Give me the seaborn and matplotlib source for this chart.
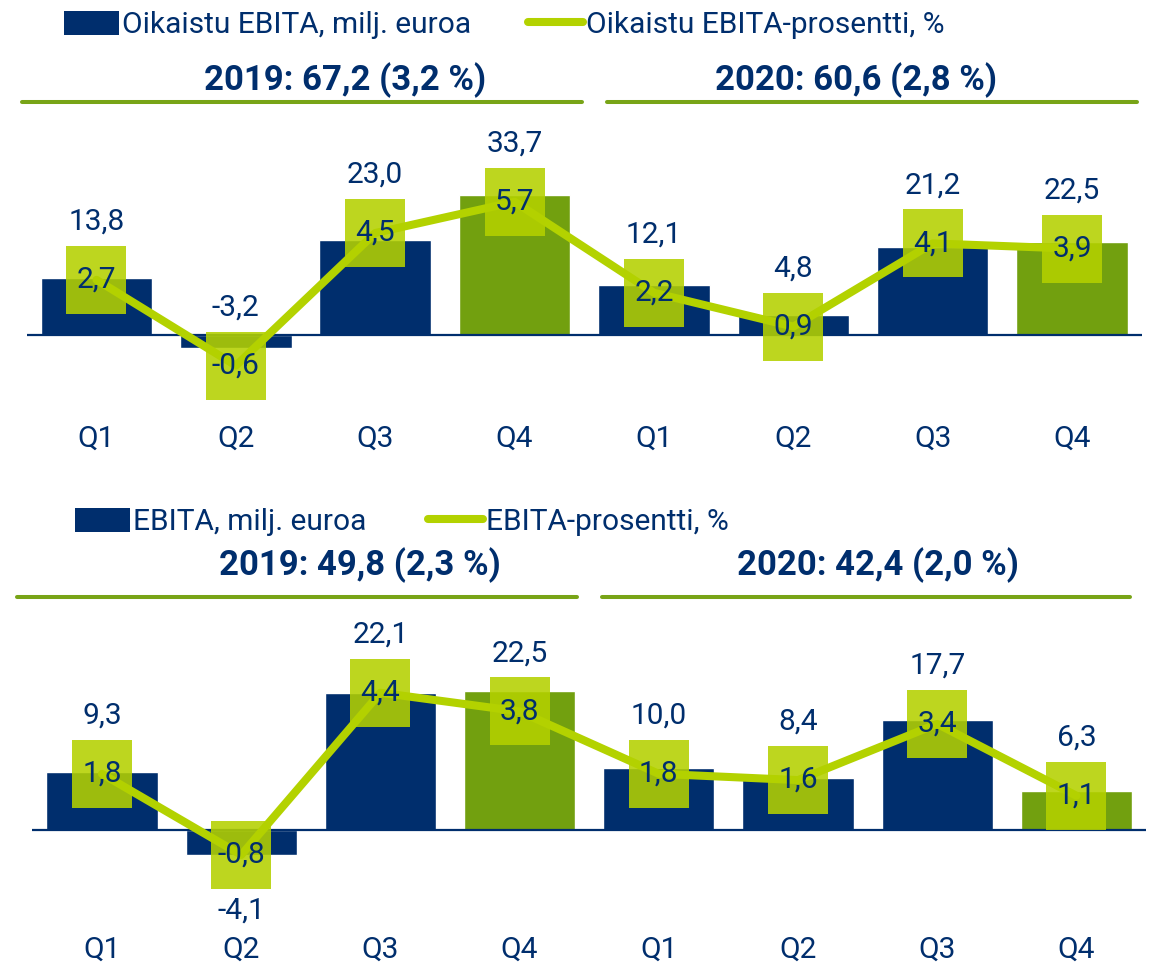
import numpy as np
import pandas as pd
import matplotlib
matplotlib.use("Agg")
import matplotlib.pyplot as plt
import seaborn as sns
from matplotlib.path import Path
from matplotlib.lines import Line2D
from matplotlib.patches import Patch

# ---------------- data ----------------
quarters = ["Q1", "Q2", "Q3", "Q4", "Q1", "Q2", "Q3", "Q4"]
periods = ["2019 Q1", "2019 Q2", "2019 Q3", "2019 Q4",
           "2020 Q1", "2020 Q2", "2020 Q3", "2020 Q4"]

adj_ebita = [13.8, -3.2, 23.0, 33.7, 12.1, 4.8, 21.2, 22.5]
adj_pct = [2.7, -0.6, 4.5, 5.7, 2.2, 0.9, 4.1, 3.9]
ebita = [9.3, -4.1, 22.1, 22.5, 10.0, 8.4, 17.7, 6.3]
ebita_pct = [1.8, -0.8, 4.4, 3.8, 1.8, 1.6, 3.4, 1.1]

top_legend = ["Oikaistu EBITA, milj. euroa", "Oikaistu EBITA-prosentti, %"]
bottom_legend = ["EBITA, milj. euroa", "EBITA-prosentti, %"]
top_headers = ["2019: 67,2 (3,2 %)", "2020: 60,6 (2,8 %)"]
bottom_headers = ["2019: 49,8 (2,3 %)", "2020: 42,4 (2,0 %)"]
bottom_label_below = [False, True, False, False, False, False, False, False]
top_label_below = [False] * 8

# ---------------- style ----------------
NAVY = "#002E6D"
GREEN = "#72A00F"
LIME = "#B3D200"
BOX = "#B4D100"
HDR = "#78A417"
FONT = "Roboto"
FS = 21.5

sns.set_theme(style="white")
plt.rcParams["font.family"] = [FONT, "DejaVu Sans"]

W, H = 1149, 967
DPI = 100
fig = plt.figure(figsize=(W / DPI, H / DPI), dpi=DPI)
fig.patch.set_facecolor("white")

BOX_HALF_PX = 34
rect_path = Path([(-30, -34), (30, -34), (30, 34), (-30, 34), (-30, -34)],
                 [Path.MOVETO, Path.LINETO, Path.LINETO, Path.LINETO, Path.CLOSEPOLY])
BOX_S = (2 * BOX_HALF_PX * 0.72) ** 2


def fmt(v):
    return f"{v:.1f}".replace(".", ",")


def panel(rect, values, pcts, ylim, ylim2, tick_pad, below):
    ax = fig.add_axes(rect)
    df = pd.DataFrame({"period": periods, "value": values, "quarter": quarters})
    sns.barplot(data=df, x="period", y="value", hue="quarter",
                palette={"Q1": NAVY, "Q2": NAVY, "Q3": NAVY, "Q4": GREEN},
                order=periods, dodge=False, width=0.8, saturation=1,
                legend=False, ax=ax)
    ax.set_xlim(-0.5, 7.5)
    ax.set_ylim(*ylim)
    ax.axhline(0, color=NAVY, lw=1.6, zorder=3)
    ax.set_xticks(range(len(quarters)))
    ax.set_xticklabels(quarters, fontsize=FS, color=NAVY)
    ax.tick_params(axis="x", length=0, pad=tick_pad)
    ax.set_yticks([])
    ax.set_xlabel("")
    ax.set_ylabel("")
    for s in ax.spines.values():
        s.set_visible(False)
    ax.patch.set_alpha(0)

    ax2 = ax.twinx()
    ax2.set_ylim(*ylim2)
    x = np.arange(len(pcts))
    sns.lineplot(x=x, y=pcts, ax=ax2, color=LIME, lw=5.8, sort=False,
                 solid_joinstyle="round", zorder=2)
    ax2.scatter(x, pcts, marker=rect_path, s=BOX_S, color=BOX, alpha=0.88,
                linewidths=0, zorder=3)
    for i, p in enumerate(pcts):
        ax2.text(i, p, fmt(p), ha="center", va="center", fontsize=FS,
                 color=NAVY, zorder=5)
    ax2.set_yticks([])
    ax2.set_ylabel("")
    for s in ax2.spines.values():
        s.set_visible(False)

    # value labels above (or below) bar / box
    scale = DPI / 100
    for i, (v, p) in enumerate(zip(values, pcts)):
        box_c = ax2.transData.transform((i, p))[1]
        if below[i]:
            bar_bot = ax.transData.transform((i, min(v, 0)))[1]
            ypx = min(box_c - BOX_HALF_PX * scale, bar_bot) - 22 * scale
        else:
            bar_top = ax.transData.transform((i, max(v, 0)))[1]
            ypx = max(box_c + BOX_HALF_PX * scale, bar_top) + 24 * scale
        yd = ax.transData.inverted().transform((0, ypx))[1]
        ax.text(i, yd, fmt(v), ha="center", va="center", fontsize=FS,
                color=NAVY, clip_on=False)
    return ax, ax2


def fx(px):
    return px / W


def fy(py):
    return 1 - py / H


# top panel: baseline y=335, axes 120..400
panel([fx(26.8), fy(400), fx(1115), 280 / H], adj_ebita, adj_pct,
      (-(400 - 335) / 4.15, (335 - 120) / 4.15),
      (-(400 - 350) / 26.0, (350 - 120) / 26.0), 17.5, top_label_below)

# bottom panel: baseline y=830, axes 610..920
panel([fx(32.4), fy(920), fx(1113.6), 310 / H], ebita, ebita_pct,
      (-(920 - 830) / 6.2, (830 - 610) / 6.2),
      (-(920 - 830) / 31.2, (830 - 610) / 31.2), 11, bottom_label_below)


# legends
def legend_item(handle, label, xpx, ypx):
    fig.legend([handle], [label], loc="center left",
               bbox_to_anchor=(fx(xpx), fy(ypx)), frameon=False,
               fontsize=FS, handlelength=1.85, handleheight=0.9,
               handletextpad=0.1, borderpad=0, borderaxespad=0,
               labelcolor=NAVY)


bar_handle = Patch(facecolor=NAVY, edgecolor="none")
line_handle = Line2D([], [], color=LIME, lw=5.8, solid_capstyle="round")
legend_item(bar_handle, top_legend[0], 64, 25)
legend_item(line_handle, top_legend[1], 528, 25)
legend_item(bar_handle, bottom_legend[0], 75, 522)
legend_item(line_handle, bottom_legend[1], 428, 522)

# headers and separator lines
for txt, xc, yc in [(top_headers[0], 345, 80), (top_headers[1], 856, 80),
                    (bottom_headers[0], 360, 565), (bottom_headers[1], 878, 565)]:
    fig.text(fx(xc), fy(yc), txt, ha="center", va="center", fontsize=25,
             fontweight="bold", color=NAVY)

for x0, x1, yy in [(22, 582, 102), (607, 1137, 102), (17, 577, 597), (602, 1130, 597)]:
    fig.add_artist(Line2D([fx(x0), fx(x1)], [fy(yy), fy(yy)], color=HDR, lw=2.9,
                          transform=fig.transFigure))

fig.savefig("out.png", dpi=DPI, facecolor="white")
